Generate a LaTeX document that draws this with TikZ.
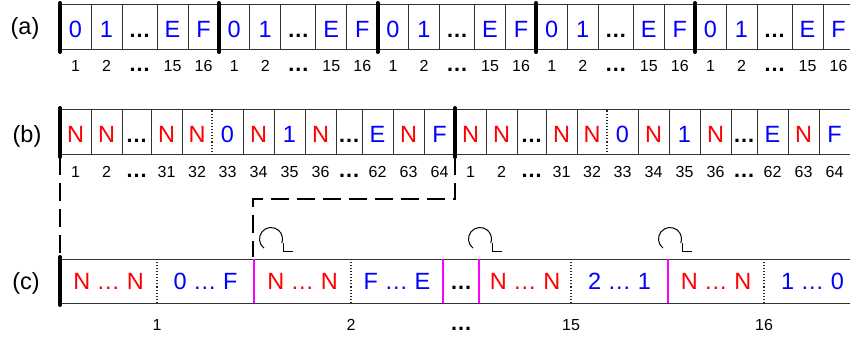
\documentclass[tikz,border=0pt]{standalone}
\usepackage{fontspec}
\setmainfont{Liberation Sans}
\usetikzlibrary{arrows.meta,calc}
\definecolor{myred}{RGB}{255,0,0}
\definecolor{myblue}{RGB}{0,0,255}
\definecolor{mymag}{RGB}{255,0,255}
\newcommand{\bdots}{{\fontsize{22}{24}\selectfont\bfseries …}}
\begin{document}
\begin{tikzpicture}[x=1pt,y=1pt,
  frame/.style={line width=1pt, draw=black!80},
  sepline/.style={line width=1pt, draw=black!80},
  dotline/.style={line width=1.1pt, draw=black!85, dotted},
  magline/.style={line width=2pt, draw=mymag},
  bar/.style={line width=4pt, line cap=round},
  conn/.style={line width=1.8pt, dash pattern=on 18pt off 8pt},
  big/.style={font=\fontsize{23.5}{25}\selectfont, anchor=base, inner sep=0pt},
  num/.style={font=\fontsize{16}{18}\selectfont, anchor=base, inner sep=0pt},
  lab/.style={font=\fontsize{23.5}{25}\selectfont, anchor=base, inner sep=0pt},
  rd/.style={text=myred}, bl/.style={text=myblue}, bk/.style={text=black},
  rot/.style={line width=1pt}
  ]
\useasboundingbox (0,0) rectangle (850,340);
\clip (0,0) rectangle (850,340);

% row labels
\node[lab] (la) at (25,305) {(a)};
\node[lab] (lb) at (27,197) {(b)};
\node[lab] (lc) at (26,51) {(c)};

% ---------------- row (a)
\foreach \g in {0,...,4} {
  \pgfmathsetmacro\gx{60+\g*158.75}
  \draw[frame] (\gx,290) rectangle (\gx+158.75,335);
  \foreach \o in {31,62,97,128} {
    \draw[sepline] (\gx+\o,290) -- (\gx+\o,335);
  }
  \foreach \o/\t/\c/\l [count=\i] in {15.5/0/bl/1, 46.5/1/bl/2, 79.5/{\bdots}/bk/{\bdots}, 112.5/E/bl/15, 143.5/F/bl/16} {
    \node[big,\c] (a\g c\i) at (\gx+\o,302) {\t};
    \node[num] (a\g n\i) at (\gx+\o,268) {\l};
  }
}
\foreach \g in {0,...,4} {
  \pgfmathsetmacro\gx{60+\g*158.75}
  \draw[bar] (\gx,288) -- (\gx,337);
}

% ---------------- row (b)
\foreach \g in {0,1} {
  \pgfmathsetmacro\gx{60+\g*395}
  \draw[frame] (\gx,185) rectangle (\gx+395,230);
  \foreach \o in {31,62,91,122,183,214,245,276,302,333,364} {
    \draw[sepline] (\gx+\o,185) -- (\gx+\o,230);
  }
  \draw[dotline] (\gx+152,185) -- (\gx+152,230);
  \foreach \o/\t/\c/\l [count=\i] in {
      15.5/N/rd/1, 46.5/N/rd/2, 76.5/{\bdots}/bk/{\bdots},
      106.5/N/rd/31, 137/N/rd/32, 167.5/0/bl/33, 198.5/N/rd/34,
      229.5/1/bl/35, 260.5/N/rd/36, 289/{\bdots}/bk/{\bdots},
      317.5/E/bl/62, 348.5/N/rd/63, 379.5/F/bl/64} {
    \node[big,\c] (b\g c\i) at (\gx+\o,197) {\t};
    \node[num] (b\g n\i) at (\gx+\o,162) {\l};
  }
}
\draw[bar] (60,183) -- (60,232);
\draw[bar] (455,183) -- (455,232);

% ---------------- row (c)
\draw[frame] (60,37) -- (861,37);
\draw[frame] (60,81) -- (861,81);
\foreach \xx in {157,351,571,764} {
  \draw[dotline] (\xx,37) -- (\xx,81);
}
\foreach \xx in {254,443,479,668} {
  \draw[magline] (\xx,37) -- (\xx,81);
}
\draw[bar] (60,35) -- (60,83);

\node[big,rd] (c1) at (108.5,51) {N … N};
\node[big,bl] (c2) at (205.5,51) {0 … F};
\node[big,rd] (c3) at (302.5,51) {N … N};
\node[big,bl] (c4) at (397,51) {F … E};
\node[big,bk] (c5) at (461,51) {\bdots};
\node[big,rd] (c6) at (525,51) {N … N};
\node[big,bl] (c7) at (619.5,51) {2 … 1};
\node[big,rd] (c8) at (716,51) {N … N};
\node[big,bl] (c9) at (812.5,51) {1 … 0};

\node[num] (cn1) at (157,10) {1};
\node[num] (cn2) at (351,10) {2};
\node[num] (cn3) at (461,10) {\bdots};
\node[num] (cn4) at (571,10) {15};
\node[num] (cn5) at (764,10) {16};

% rotation arrows
\foreach \cx [count=\i] in {271,480,670} {
  \coordinate (r\i) at (\cx,101);
  \draw[rot] (r\i) ++(232:11.5) arc[start angle=232, end angle=-20, radius=11.5];
  \draw[rot] ($(r\i)+(12,-4)$) -- ($(r\i)+(12,-12)$) -- ($(r\i)+(22,-12)$);
}

% dashed connectors
\coordinate (d1a) at (60,183);
\coordinate (d1b) at (60,83);
\draw[conn] (d1a) -- (d1b);
\coordinate (d2a) at (455,183);
\coordinate (d2b) at (455,141);
\coordinate (d2c) at (253,141);
\coordinate (d2d) at (253,83);
\draw[conn] (d2a) -- (d2b) -- (d2c) -- (d2d);
\end{tikzpicture}
\end{document}
